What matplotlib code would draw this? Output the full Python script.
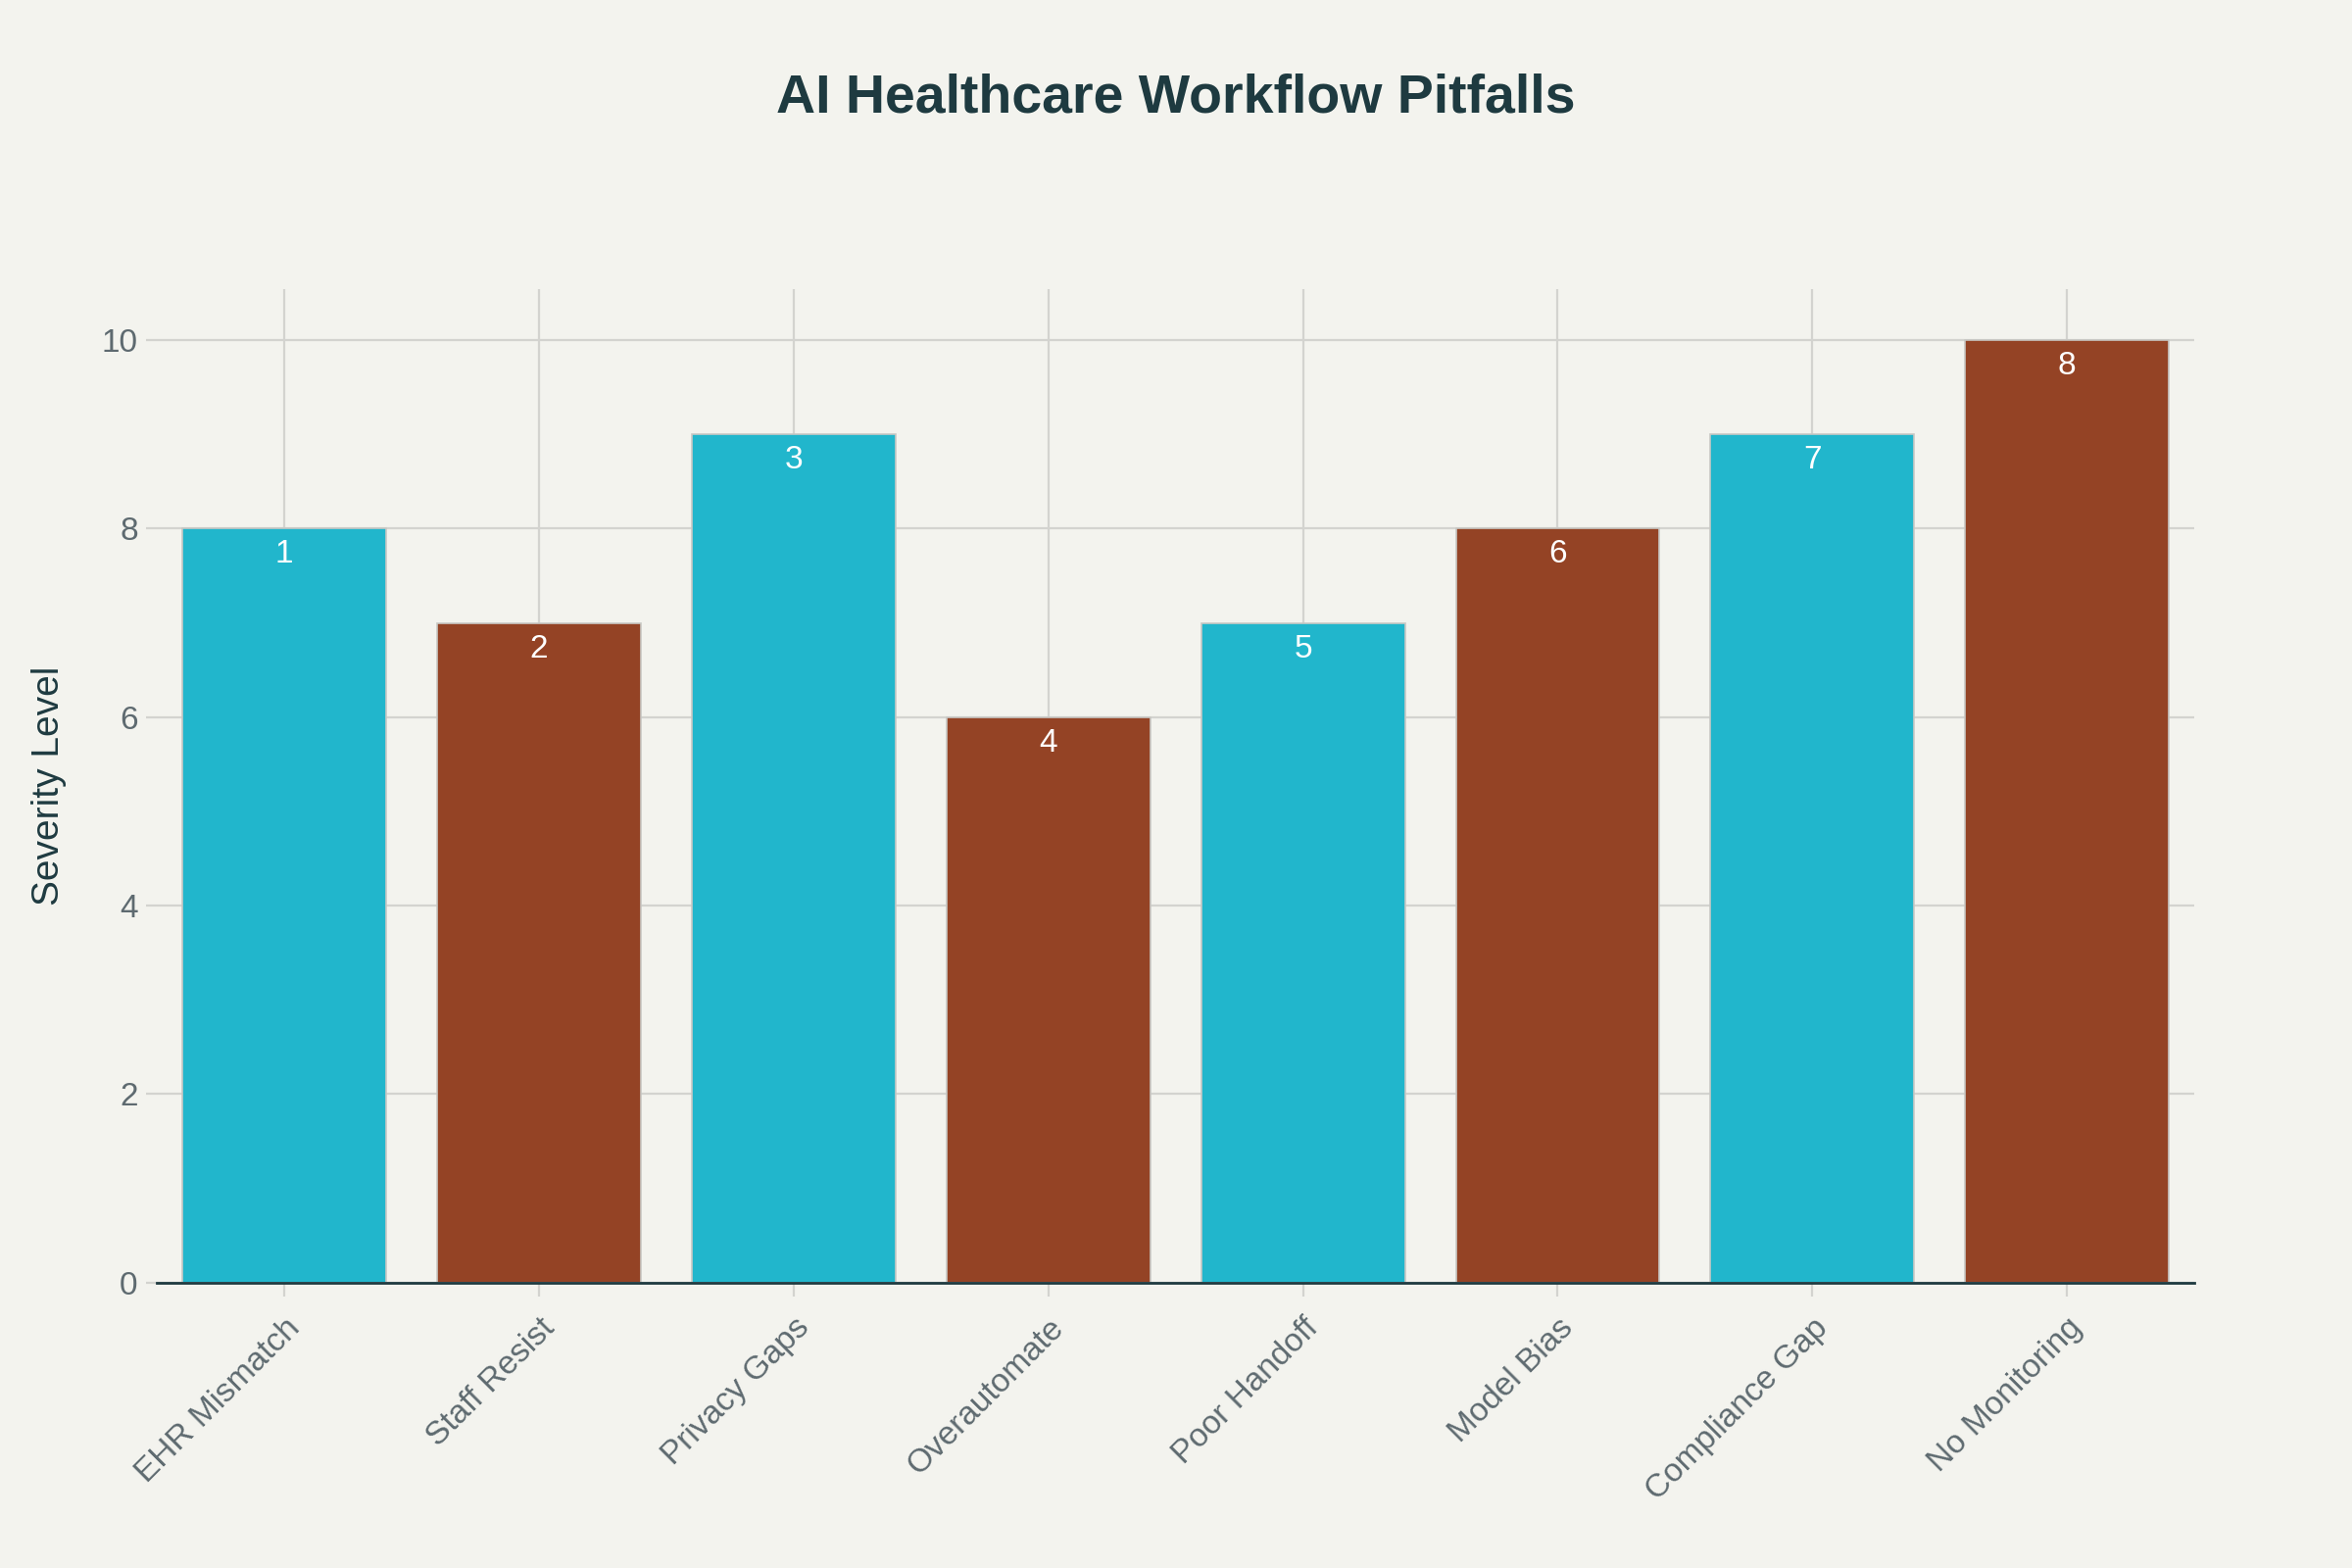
import matplotlib.pyplot as plt

categories = ["EHR Mismatch", "Staff Resist", "Privacy Gaps", "Overautomate",
              "Poor Handoff", "Model Bias", "Compliance Gap", "No Monitoring"]
severity = [8, 7, 9, 6, 7, 8, 9, 10]
rank_labels = ["1", "2", "3", "4", "5", "6", "7", "8"]
y_ticks = [0, 2, 4, 6, 8, 10]

cyan = "#21B6CC"
brown = "#944325"
bg = "#F3F3EE"
dark = "#1E3A40"
grid_c = "#D3D3CF"
tick_c = "#5E6A70"

plt.rcParams['font.family'] = ['Liberation Sans', 'DejaVu Sans']

fig = plt.figure(figsize=(12, 8), dpi=200, facecolor=bg)
ax = fig.add_axes([0.0667, 0.182, 0.8663, 0.6335], facecolor=bg)

colors = [cyan if i % 2 == 0 else brown for i in range(len(categories))]
x = list(range(len(categories)))
bars = ax.bar(x, severity, width=0.8, color=colors, edgecolor="#C8C8C4",
              linewidth=0.6, zorder=3)

for b, lab in zip(bars, rank_labels):
    ax.annotate(lab, (b.get_x() + b.get_width() / 2, b.get_height()),
                xytext=(0, -9.5), textcoords="offset points",
                ha="center", va="center", color="white", fontsize=12, zorder=4)

ax.set_xlim(-0.5, len(categories) - 0.5)
ax.set_ylim(0, 10.54)
ax.set_yticks(y_ticks)
ax.set_xticks(x)
ax.set_xticklabels(categories, rotation=45, ha="right", va="top",
                   rotation_mode="anchor")

ax.grid(True, color=grid_c, linewidth=0.8, zorder=0)
ax.set_axisbelow(True)

for s in ["top", "right", "left"]:
    ax.spines[s].set_visible(False)
ax.spines["bottom"].set_color(dark)
ax.spines["bottom"].set_linewidth(1.0)
ax.spines["bottom"].set_zorder(5)

ax.tick_params(axis="x", colors=grid_c, length=5, width=0.8, pad=6,
               labelcolor=tick_c, labelsize=12)
ax.tick_params(axis="y", colors=grid_c, length=4, width=0.8, pad=3,
               labelcolor=tick_c, labelsize=12)

ax.set_ylabel("Severity Level", color=dark, fontsize=14, labelpad=13)

fig.text(0.5, 0.937, "AI Healthcare Workflow Pitfalls", ha="center", va="center",
         fontsize=20, fontweight="bold", color=dark)

fig.savefig("out.png", dpi=200, facecolor=bg)
